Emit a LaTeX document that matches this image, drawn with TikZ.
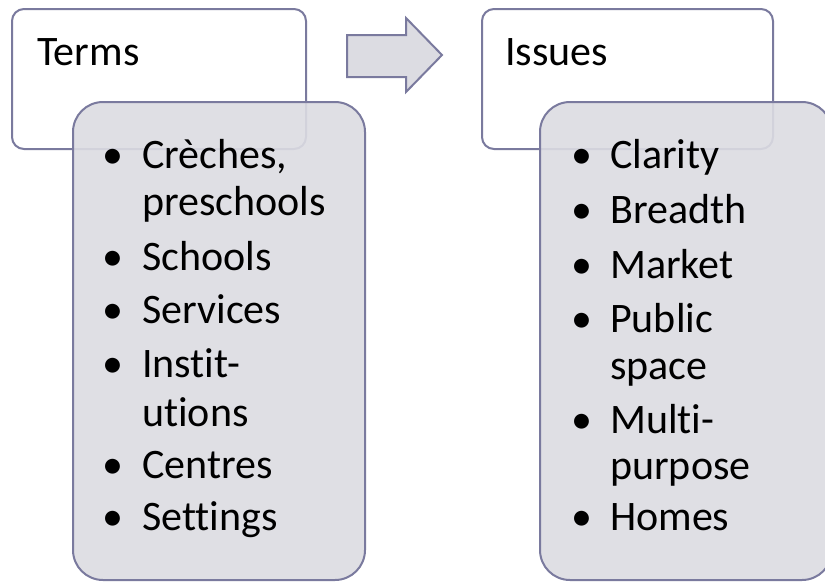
\documentclass[tikz,border=0pt]{standalone}
\usepackage{fontspec}
\setmainfont{Carlito}[Ligatures={NoCommon}]
\definecolor{edge}{RGB}{122,122,158}
\definecolor{boxfill}{RGB}{220,220,226}
\begin{document}
\begin{tikzpicture}[x=1pt,y=-1pt,
  topbox/.style={draw=edge, line width=2pt, fill=white, rounded corners=12pt, rectangle, inner sep=0pt},
  listbox/.style={draw=edge, line width=2pt, fill=boxfill, fill opacity=0.9, rounded corners=30pt, rectangle, inner sep=0pt},
  txt/.style={anchor=base west, inner sep=0pt, font=\fontsize{42}{50}\selectfont},
  bul/.style={anchor=base, inner sep=0pt, font=\fontsize{42}{50}\selectfont}]
\useasboundingbox (0,0) rectangle (825,582);
\clip (0,0) rectangle (825,582);
\fill[white] (0,0) rectangle (825,582);
% left group
\node[topbox, minimum width=294pt, minimum height=140pt] (termsbox) at (159,79) {};
\node[listbox, minimum width=292pt, minimum height=478pt] (termslist) at (219,341) {};
\node[txt] (terms) at (37,65) {Terms};
% right group
\node[topbox, minimum width=291pt, minimum height=140pt] (issuesbox) at (627.5,79) {};
\node[listbox, minimum width=292pt, minimum height=478pt] (issueslist) at (686,341) {};
\node[txt] (issues) at (505,65) {Issues};
% arrow
\draw[draw=edge, line width=2pt, fill=boxfill, line join=miter]
  (347,35) -- (406,35) -- (406,18) -- (442,55) -- (406,92) -- (406,77) -- (347,77) -- cycle;
% left list
\node[bul] (lb1) at (113,168) {•};
\node[txt] (l1) at (142,168) {Crèches,};
\node[txt] (l1b) at (142,215) {preschools};
\node[bul] (lb2) at (113,270) {•};
\node[txt] (l2) at (142,270) {Schools};
\node[bul] (lb3) at (113,323) {•};
\node[txt] (l3) at (142,323) {Services};
\node[bul] (lb4) at (113,377) {•};
\node[txt] (l4) at (142,377) {Instit-};
\node[txt] (l4b) at (142,426) {utions};
\node[bul] (lb5) at (113,478) {•};
\node[txt] (l5) at (142,478) {Centres};
\node[bul] (lb6) at (113,530) {•};
\node[txt] (l6) at (142,530) {Settings};
% right list
\node[bul] (rb1) at (582,168) {•};
\node[txt] (r1) at (610,168) {Clarity};
\node[bul] (rb2) at (582,223) {•};
\node[txt] (r2) at (610,223) {Breadth};
\node[bul] (rb3) at (582,278) {•};
\node[txt] (r3) at (610,278) {Market};
\node[bul] (rb4) at (582,332) {•};
\node[txt] (r4) at (610,332) {Public};
\node[txt] (r4b) at (610,379) {space};
\node[bul] (rb5) at (582,433) {•};
\node[txt] (r5) at (610,433) {Multi-};
\node[txt] (r5b) at (610,479) {purpose};
\node[bul] (rb6) at (582,530) {•};
\node[txt] (r6) at (610,530) {Homes};
\end{tikzpicture}
\end{document}
